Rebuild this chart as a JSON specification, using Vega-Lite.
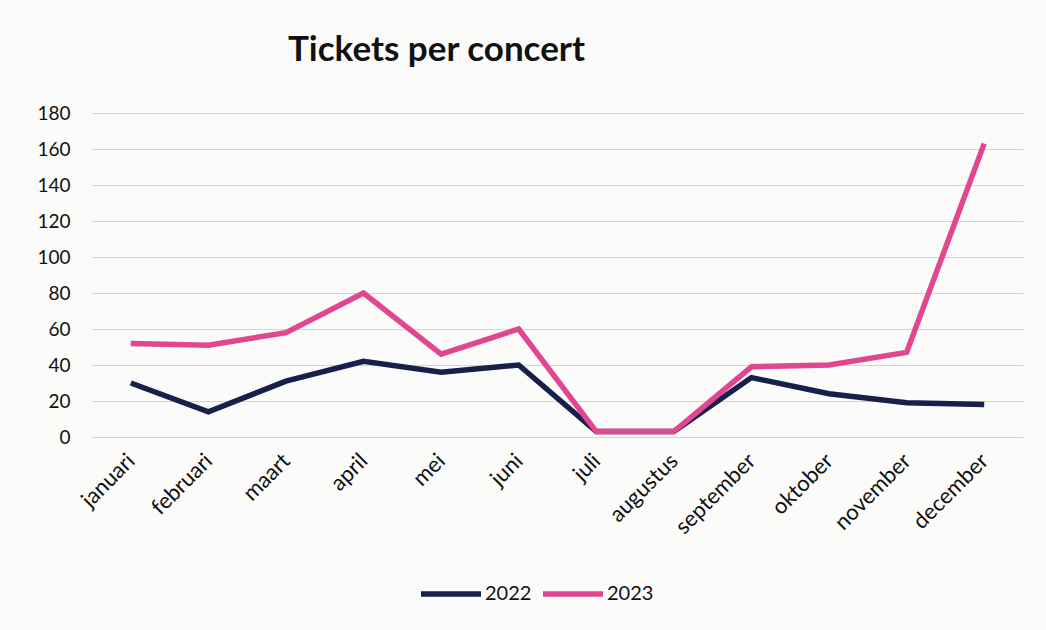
{
  "$schema": "https://vega.github.io/schema/vega-lite/v6.json",
  "width": 931,
  "height": 324,
  "autosize": {"type": "none"},
  "padding": {"left": 92, "top": 113, "right": 23, "bottom": 193},
  "background": "#fbfbfa",
  "title": {
    "text": "Tickets per concert",
    "anchor": "start",
    "frame": "group",
    "dx": 196,
    "offset": 36,
    "font": "Lato",
    "fontSize": 35,
    "fontWeight": "bold",
    "color": "#111111"
  },
  "config": {
    "view": {"stroke": null},
    "font": "Lato"
  },
  "data": {
    "values": [
      {"maand": "januari", "jaar": "2022", "tickets": 30},
      {"maand": "februari", "jaar": "2022", "tickets": 14},
      {"maand": "maart", "jaar": "2022", "tickets": 31},
      {"maand": "april", "jaar": "2022", "tickets": 42},
      {"maand": "mei", "jaar": "2022", "tickets": 36},
      {"maand": "juni", "jaar": "2022", "tickets": 40},
      {"maand": "juli", "jaar": "2022", "tickets": 3},
      {"maand": "augustus", "jaar": "2022", "tickets": 3},
      {"maand": "september", "jaar": "2022", "tickets": 33},
      {"maand": "oktober", "jaar": "2022", "tickets": 24},
      {"maand": "november", "jaar": "2022", "tickets": 19},
      {"maand": "december", "jaar": "2022", "tickets": 18},
      {"maand": "januari", "jaar": "2023", "tickets": 52},
      {"maand": "februari", "jaar": "2023", "tickets": 51},
      {"maand": "maart", "jaar": "2023", "tickets": 58},
      {"maand": "april", "jaar": "2023", "tickets": 80},
      {"maand": "mei", "jaar": "2023", "tickets": 46},
      {"maand": "juni", "jaar": "2023", "tickets": 60},
      {"maand": "juli", "jaar": "2023", "tickets": 3},
      {"maand": "augustus", "jaar": "2023", "tickets": 3},
      {"maand": "september", "jaar": "2023", "tickets": 39},
      {"maand": "oktober", "jaar": "2023", "tickets": 40},
      {"maand": "november", "jaar": "2023", "tickets": 47},
      {"maand": "december", "jaar": "2023", "tickets": 163}
    ]
  },
  "mark": {"type": "line", "strokeWidth": 5.5, "strokeJoin": "miter"},
  "encoding": {
    "x": {
      "field": "maand",
      "type": "ordinal",
      "sort": ["januari","februari","maart","april","mei","juni","juli","augustus","september","oktober","november","december"],
      "scale": {"paddingInner": 0, "paddingOuter": 0.5},
      "axis": {
        "title": null,
        "labelAngle": -45,
        "labelAlign": "right",
        "labelBaseline": "middle",
        "labelPadding": 20,
        "labelFontSize": 22,
        "labelColor": "#111111",
        "domain": false,
        "ticks": false,
        "grid": false
      }
    },
    "y": {
      "field": "tickets",
      "type": "quantitative",
      "scale": {"domain": [0, 180], "nice": false},
      "axis": {
        "title": null,
        "values": [0,20,40,60,80,100,120,140,160,180],
        "labelFontSize": 19,
        "labelColor": "#111111",
        "labelPadding": 22,
        "domain": false,
        "ticks": false,
        "gridColor": "#d4d4d4",
        "gridWidth": 1.2
      }
    },
    "color": {
      "field": "jaar",
      "type": "nominal",
      "scale": {"domain": ["2022","2023"], "range": ["#17204a","#e24690"]},
      "legend": {
        "title": null,
        "orient": "none",
        "direction": "horizontal",
        "legendX": 326,
        "legendY": 448,
        "symbolType": "stroke",
        "symbolSize": 3600,
        "symbolStrokeWidth": 5.5,
        "labelFontSize": 20,
        "labelColor": "#111111",
        "labelOffset": 1,
        "columnPadding": 0
      }
    }
  }
}
